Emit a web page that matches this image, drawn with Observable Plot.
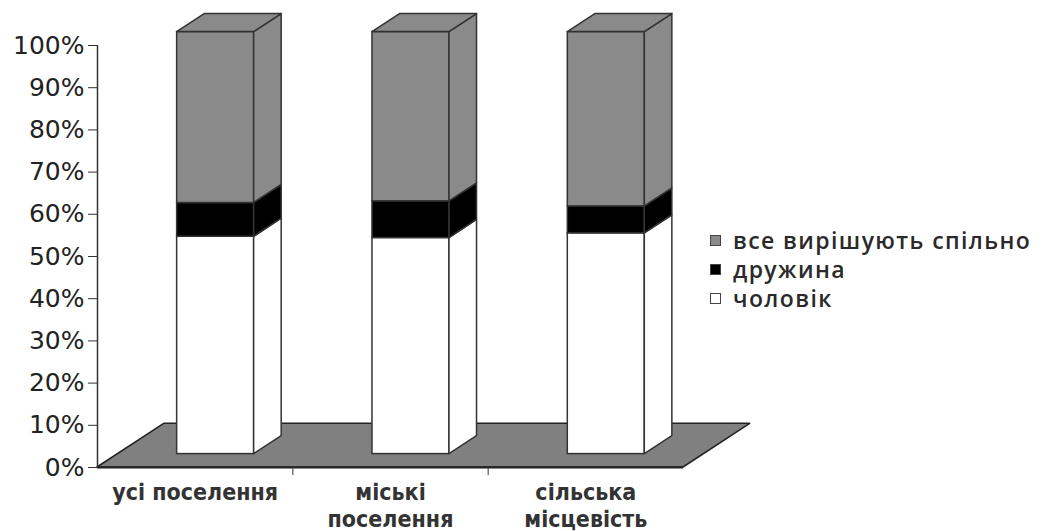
<!DOCTYPE html>
<html><head><meta charset="utf-8">
<script src="https://cdn.jsdelivr.net/npm/d3@7"></script>
<script src="https://cdn.jsdelivr.net/npm/@observablehq/plot@0.6"></script>
<style>
body{margin:0;background:#fff;}
#wrap{position:relative;width:1043px;height:531px;}
#legend{position:absolute;left:710px;top:226px;font-family:"Open Sans";font-size:23px;font-weight:600;letter-spacing:1.4px;color:#2a2a2a;line-height:29px;}
.item{display:flex;align-items:center;height:29px;}
.sw{width:9px;height:9px;border:1.5px solid #444;margin-right:12px;}
</style></head><body><div id="wrap"><div id="legend"></div></div>
<script>
// ---- data ----
const categories = ["усі поселення", "міські поселення", "сільська місцевість"];
const categoryLabels = ["усі поселення", "міські\nпоселення", "сільська\nмісцевість"];
const seriesNames = ["чоловік", "дружина", "все вирішують спільно"];
const husband = [51.5, 51.2, 52.3];
const wife = [8.0, 8.7, 6.4];
const together = [40.5, 40.1, 41.3];
const yTicks = [0, 10, 20, 30, 40, 50, 60, 70, 80, 90, 100];

// ---- styles / geometry ----
const seriesColors = ["#ffffff", "#000000", "#8a8a8a"];
const legendOrder = [2, 1, 0];
const W = 1043, H = 531, ml = 97, mr = 360, mt = 45, mb = 64;
const pxX = (W - ml - mr) / categories.length;
const pxY = (H - mt - mb) / 100;
const DX = 66.7 / pxX, DY = 43.7 / pxY;   // floor depth in data units
const f0 = 0.307, f1 = 0.72;               // bar depth span
const hw = 38.5 / pxX;                      // half bar width

const seriesValues = [husband, wife, together];
const segs = [];
categories.forEach((c, i) => {
  let acc = 0;
  seriesValues.forEach((vals, k) => {
    segs.push({i, k, lo: acc, hi: acc + vals[i]});
    acc += vals[i];
  });
});

const marks = [];
// floor
marks.push(Plot.area(
  [{y: 0, a: 0, b: categories.length}, {y: DY, a: DX, b: categories.length + DX}],
  {x1: "a", x2: "b", y1: "y", y2: "y", fill: "#808080", stroke: "#222", strokeWidth: 1.5}
));
marks.push(Plot.ruleX([0], {y1: 0, y2: 100, stroke: "#333", strokeWidth: 1.5}));
marks.push(Plot.ruleY([0], {x1: 0, x2: categories.length, stroke: "#222", strokeWidth: 2}));

seriesValues.forEach((vals, k) => {
  const s = segs.filter(d => d.k === k);
  // front faces
  marks.push(Plot.rect(s, {
    x1: d => d.i + 0.5 - hw + f0 * DX, x2: d => d.i + 0.5 + hw + f0 * DX,
    y1: d => d.lo + f0 * DY, y2: d => d.hi + f0 * DY,
    fill: seriesColors[k], stroke: "#333", strokeWidth: 1.5
  }));
  // side faces
  const side = s.flatMap(d => [f0, f1].map(f => ({
    id: d.i, x: d.i + 0.5 + hw + f * DX, lo: d.lo + f * DY, hi: d.hi + f * DY
  })));
  marks.push(Plot.area(side, {
    x1: "x", x2: "x", y1: "lo", y2: "hi", z: "id",
    fill: seriesColors[k], stroke: "#333", strokeWidth: 1.5
  }));
});
// top faces (top segment)
const topSeg = segs.filter(d => d.k === seriesValues.length - 1);
const tops = topSeg.flatMap(d => [f0, f1].map(f => ({
  id: d.i, y: d.hi + f * DY,
  a: d.i + 0.5 - hw + f * DX, b: d.i + 0.5 + hw + f * DX
})));
marks.push(Plot.area(tops, {
  x1: "a", x2: "b", y1: "y", y2: "y", z: "id",
  fill: seriesColors[seriesValues.length - 1], stroke: "#333", strokeWidth: 1.5
}));

// axes
marks.push(Plot.axisY({
  ticks: yTicks, tickFormat: d => d + "%", tickSize: 9, tickPadding: 4,
  fontSize: 25, fontFamily: "DejaVu Sans", fill: "#222", stroke: "#333", label: null
}));
marks.push(Plot.axisX({
  ticks: [1, 2], tickFormat: () => "", tickSize: 8, stroke: "#333", label: null
}));
marks.push(Plot.axisX({
  ticks: categories.map((c, i) => i + 0.5), tickSize: 0, tickPadding: 13,
  tickFormat: v => categoryLabels[Math.floor(v)],
  fontSize: 23, fontWeight: "bold", fontFamily: "DejaVu Sans Condensed, DejaVu Sans", fill: "#333",
  lineHeight: 1.17, label: null
}));

const chart = Plot.plot({
  width: W, height: H,
  marginLeft: ml, marginRight: mr, marginTop: mt, marginBottom: mb,
  x: {type: "linear", domain: [0, categories.length]},
  y: {type: "linear", domain: [0, 100]},
  style: {background: "#fff", overflow: "visible"},
  marks
});
document.getElementById("wrap").prepend(chart);
chart.style.position = "absolute"; chart.style.left = "0"; chart.style.top = "0";

const legend = document.getElementById("legend");
legendOrder.forEach(k => {
  const it = document.createElement("div"); it.className = "item";
  const sw = document.createElement("span"); sw.className = "sw"; sw.style.background = seriesColors[k];
  const tx = document.createElement("span"); tx.textContent = seriesNames[k];
  it.append(sw, tx); legend.append(it);
});
</script></body></html>
